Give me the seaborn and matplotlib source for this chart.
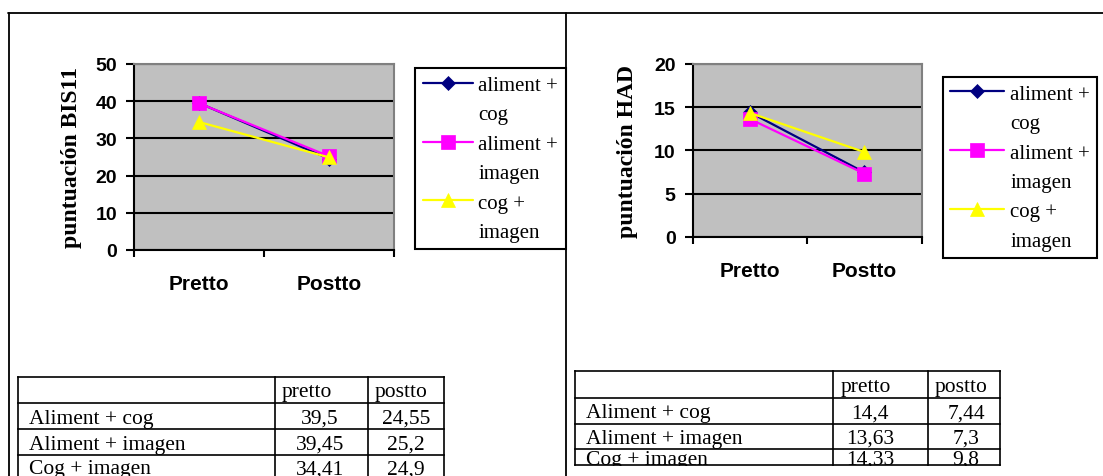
import numpy as np
import pandas as pd
import matplotlib
matplotlib.use("Agg")
import matplotlib.pyplot as plt
from matplotlib.lines import Line2D
from matplotlib.ticker import FixedLocator
from matplotlib.font_manager import FontProperties
import seaborn as sns

# --- datos ---
momentos = ["Pretto", "Postto"]
grupos = ["aliment + cog", "aliment + imagen", "cog + imagen"]
bis11_pretto = [39.5, 39.45, 34.41]
bis11_postto = [24.55, 25.2, 24.9]
had_pretto = [14.4, 13.63, 14.33]
had_postto = [7.44, 7.3, 9.8]
bis11_ticks = [0, 10, 20, 30, 40, 50]
had_ticks = [0, 5, 10, 15, 20]

# --- estilo ---
colores = ["#000080", "#FF00FF", "#FFFF00"]
marcadores = ["D", "s", "^"]
SERIF = ["Liberation Serif", "DejaVu Serif"]
SANS = ["Liberation Sans", "DejaVu Sans"]

W, H = 1103, 477

sns.set_style("white")
plt.rcParams["font.family"] = SANS
plt.rcParams["text.color"] = "black"


def tabla_larga(pre, post):
    filas = []
    for g, a, b in zip(grupos, pre, post):
        filas.append({"grupo": g, "momento": momentos[0], "puntuacion": a})
        filas.append({"grupo": g, "momento": momentos[1], "puntuacion": b})
    return pd.DataFrame(filas)


def rect(x0, y0, x1, y1):
    """Caja en píxeles (origen arriba a la izquierda) -> coordenadas de figura."""
    return [x0 / W, 1 - y1 / H, (x1 - x0) / W, (y1 - y0) / H]


fig = plt.figure(figsize=(W / 100, H / 100), dpi=100)
fig.patch.set_facecolor("white")


def panel(caja, pre, post, ticks, ylabel, ylabel_x, leyenda_xy, largo_simbolo):
    ax = fig.add_axes(rect(*caja))
    df = tabla_larga(pre, post)
    sns.lineplot(data=df, x="momento", y="puntuacion", hue="grupo", style="grupo",
                 palette=colores, markers=marcadores, dashes=False, sort=False,
                 errorbar=None, markersize=10.5, linewidth=1.6, legend=False, ax=ax)
    lineas = ax.get_lines()[:len(grupos)]
    for linea, m in zip(lineas, marcadores):
        linea.set_markeredgecolor(linea.get_color())
        linea.set_markeredgewidth(0.5)
        if m == "D":
            linea.set_markersize(7.5)

    ax.set_facecolor("#C0C0C0")
    ax.set_xlim(-0.5, len(momentos) - 0.5)
    ax.set_ylim(ticks[0], ticks[-1])

    ax.set_xticks(range(len(momentos)), labels=momentos, fontsize=15, fontweight="bold")
    ax.xaxis.set_minor_locator(FixedLocator(np.arange(len(momentos) + 1) - 0.5))
    ax.tick_params(axis="x", which="major", length=0, pad=17.4, labelcolor="black")
    ax.tick_params(axis="x", which="minor", length=5, width=1.5, direction="out",
                   color="black", bottom=True)
    ax.set_yticks(ticks, labels=[str(t) for t in ticks], fontsize=14, fontweight="bold")
    ax.tick_params(axis="y", which="major", length=5.5, width=1.5, direction="out",
                   pad=6.8, color="black", labelcolor="black", left=True)

    ax.yaxis.grid(True, color="black", linewidth=1.5)
    ax.xaxis.grid(False)
    ax.set_axisbelow(True)

    for lado in ("left", "bottom"):
        ax.spines[lado].set_color("black")
        ax.spines[lado].set_linewidth(1.5)
    for lado in ("top", "right"):
        ax.spines[lado].set_color("#808080")
        ax.spines[lado].set_linewidth(1.5)

    ax.set_xlabel("")
    ax.set_ylabel(ylabel, fontsize=17, fontweight="bold", family=SERIF, color="black")
    ax.yaxis.label.set_va("center")
    ax.yaxis.set_label_coords(ylabel_x, 0.5)

    # leyenda: cada grupo en dos renglones, el símbolo junto al primero
    vacio = Line2D([], [], linestyle="none")
    handles, etiquetas = [], []
    for linea, g in zip(lineas, grupos):
        a, b = g.split(" + ")
        handles += [linea, vacio]
        etiquetas += [a + " +", b]
    lx, ly = leyenda_xy
    leg = ax.legend(handles, etiquetas, loc="upper left",
                    bbox_to_anchor=(lx / W, 1 - ly / H), bbox_transform=fig.transFigure,
                    borderaxespad=0, prop=FontProperties(family=SERIF, size=15),
                    handlelength=largo_simbolo, handletextpad=0.28, labelspacing=0.47,
                    borderpad=0.36, fancybox=False, framealpha=1,
                    edgecolor="black", facecolor="white")
    leg.get_frame().set_linewidth(1.5)
    for t in leg.get_texts():
        t.set_color("black")
    return ax


def tabla(columnas, filas_y, bases_y, centros, pre, post):
    x0, x1, x2, x3 = columnas
    top, bottom = filas_y[0], filas_y[-1]
    ax = fig.add_axes(rect(x0, top, x3, bottom))
    ax.set_xlim(x0, x3)
    ax.set_ylim(bottom, top)
    ax.axis("off")
    for y in filas_y:
        ax.plot([x0, x3], [y, y], color="black", lw=1.2, clip_on=False,
                solid_capstyle="projecting")
    for x in columnas:
        ax.plot([x, x], [top, bottom], color="black", lw=1.2, clip_on=False,
                solid_capstyle="projecting")
    fuente = dict(family=SERIF, fontsize=15.5, color="black", va="baseline", clip_on=True)
    ax.text(x1 + 7, bases_y[0], momentos[0].lower(), ha="left", **fuente)
    ax.text(x2 + 7, bases_y[0], momentos[1].lower(), ha="left", **fuente)
    for g, a, b, yb in zip(grupos, pre, post, bases_y[1:]):
        ax.text(x0 + 11, yb, g[0].upper() + g[1:], ha="left", **fuente)
        ax.text(centros[0], yb, f"{a}".replace(".", ","), ha="center", **fuente)
        ax.text(centros[1], yb, f"{b}".replace(".", ","), ha="center", **fuente)
    return ax


panel((134, 65, 394, 251), bis11_pretto, bis11_postto, bis11_ticks,
      "puntuación BIS11", -0.242, (415, 69), 2.4)
panel((692.6, 65, 921.8, 237.7), had_pretto, had_postto, had_ticks,
      "puntuación HAD", -0.284, (942.6, 77.7), 2.6)

tabla((18.3, 274.5, 368, 444.4), [378.3, 404.3, 430, 456, 482],
      [397.5, 424, 450, 474.5], (320, 406), bis11_pretto, bis11_postto)
tabla((575, 833.5, 928, 1000.4), [372.3, 399.3, 425.3, 450.3, 466.5],
      [392, 418.5, 444, 465], (870, 966), had_pretto, had_postto)

# marco de la página
marco = dict(color="black", lw=1.3, transform=fig.transFigure)
fig.add_artist(Line2D([8 / W, 1], [1 - 14 / H, 1 - 14 / H], **marco))
fig.add_artist(Line2D([8.5 / W, 8.5 / W], [0, 1 - 14 / H], **marco))
fig.add_artist(Line2D([566 / W, 566 / W], [0, 1 - 14 / H], **marco))

fig.savefig("out.png", dpi=100, facecolor="white")
